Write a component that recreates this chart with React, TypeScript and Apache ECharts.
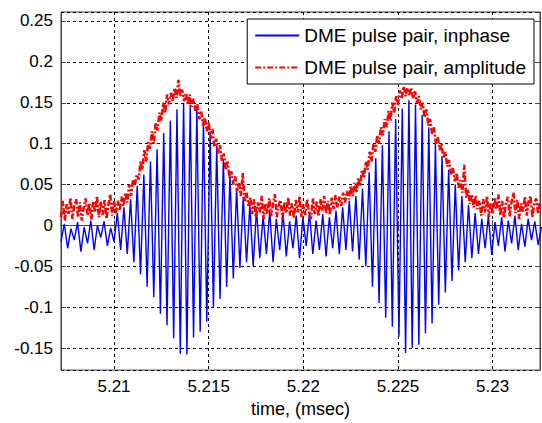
import { useEffect, useRef } from "react";
import * as echarts from "echarts";

// time grid (msec)
const T0 = 5.2072;
const BLUE_DT = 0.000175;
const RED_DT = 0.0001;
const X_MIN = 5.2072;
const X_MAX = 5.2325;
const Y_MIN = -0.177;
const Y_MAX = 0.261;

const seriesNames = ["DME pulse pair, inphase", "DME pulse pair, amplitude"];
const xAxisTitle = "time, (msec)";

// inphase signal: alternating troughs / peaks
const inphase = [
  -0.02, 0.002, -0.028, -0.004, -0.018, 0.004, -0.032, -0.002, -0.022, 0.006,
  -0.03, 0.0, -0.015, 0.005, -0.025, -0.003, -0.02,
  0.015, -0.03, 0.022, -0.035, 0.032, -0.045, 0.048, -0.06, 0.062, -0.075,
  0.078, -0.088, 0.093, -0.108, 0.113, -0.122, 0.128, -0.138, 0.142, -0.157,
  0.15, -0.158, 0.148, -0.137, 0.142, -0.13, 0.128, -0.118, 0.115, -0.1,
  0.097, -0.09, 0.08, -0.075, 0.062, -0.065, 0.045, -0.052, 0.035, -0.045,
  0.025, -0.05, 0.02,
  -0.04, 0.012, -0.035, 0.018, -0.045, 0.008, -0.03, 0.015, -0.038, 0.005,
  -0.028, 0.012, -0.04, 0.01, -0.025, 0.016, -0.035, 0.006, -0.03, 0.014,
  -0.038, 0.01, -0.028, 0.018,
  -0.035, 0.022, -0.03, 0.03, -0.032, 0.036, -0.042, 0.045, -0.05, 0.065,
  -0.075, 0.082, -0.095, 0.098, -0.113, 0.115, -0.124, 0.13, -0.136, 0.143,
  -0.156, 0.153, -0.15, 0.148, -0.146, 0.135, -0.132, 0.12, -0.12, 0.1,
  -0.097, 0.085, -0.082, 0.068, -0.068, 0.05, -0.055, 0.036, -0.045, 0.025,
  -0.04,
  0.015, -0.035, 0.008, -0.028, 0.012, -0.036, 0.004, -0.025, 0.01, -0.032,
  0.006, -0.022, 0.012, -0.03, 0.002, -0.026, 0.008, -0.018, 0.005, -0.024,
  -0.002,
];

// amplitude (noisy envelope)
const amplitude = [
  0.01, 0.03, 0.006, 0.026, 0.014, 0.034, 0.008, 0.024, 0.032, 0.01,
  0.028, 0.006, 0.022, 0.033, 0.012, 0.027, 0.007, 0.03, 0.016, 0.036,
  0.01, 0.029, 0.013, 0.031, 0.008, 0.025, 0.038, 0.012, 0.03, 0.015,
  0.03, 0.018, 0.035, 0.024, 0.04, 0.028, 0.05, 0.036, 0.056, 0.05,
  0.062, 0.056, 0.078, 0.068, 0.092, 0.078, 0.102, 0.094, 0.115, 0.1,
  0.126, 0.116, 0.138, 0.128, 0.15, 0.138, 0.16, 0.148, 0.162, 0.152,
  0.168, 0.156, 0.178,
  0.158, 0.166, 0.152, 0.162, 0.148, 0.16, 0.145, 0.155, 0.14, 0.148,
  0.13, 0.14, 0.122, 0.132, 0.115, 0.126, 0.106, 0.118, 0.096, 0.106,
  0.088, 0.098, 0.078, 0.088, 0.068, 0.078, 0.058, 0.066, 0.05, 0.06,
  0.042, 0.052, 0.036, 0.064, 0.03, 0.04, 0.024, 0.034,
  0.014, 0.032, 0.01, 0.028, 0.016, 0.036, 0.008, 0.027, 0.014, 0.033,
  0.011, 0.026, 0.038, 0.01, 0.025, 0.031, 0.007, 0.028, 0.015, 0.034,
  0.012, 0.027, 0.009, 0.031, 0.016, 0.036, 0.01, 0.026, 0.013, 0.032,
  0.017, 0.008, 0.033, 0.014, 0.029, 0.011, 0.032, 0.018, 0.036, 0.015,
  0.03, 0.013, 0.034, 0.02, 0.037, 0.022,
  0.035, 0.024, 0.04, 0.028, 0.042, 0.032, 0.048, 0.036, 0.052, 0.04,
  0.058, 0.048, 0.068, 0.058, 0.078, 0.068, 0.09, 0.078, 0.1, 0.09,
  0.11, 0.1, 0.12, 0.11, 0.13, 0.12, 0.14, 0.128, 0.15, 0.138,
  0.158, 0.148, 0.165, 0.155, 0.17, 0.158, 0.168, 0.16,
  0.168, 0.155, 0.164, 0.15, 0.158, 0.142, 0.15, 0.132, 0.142, 0.122,
  0.13, 0.112, 0.12, 0.1, 0.108, 0.092, 0.1, 0.082, 0.09, 0.072,
  0.08, 0.062, 0.07, 0.054, 0.064, 0.046, 0.055, 0.04, 0.074, 0.034,
  0.044, 0.026, 0.038, 0.022, 0.036, 0.02,
  0.03, 0.012, 0.032, 0.016, 0.036, 0.01, 0.028, 0.014, 0.034, 0.02,
  0.038, 0.012, 0.03, 0.009, 0.027, 0.035, 0.011, 0.029, 0.04, 0.015,
  0.031, 0.008, 0.027, 0.017, 0.035, 0.012, 0.03, 0.036, 0.01, 0.028,
  0.033, 0.014, 0.03,
];

const FONT = "Arial, 'Liberation Sans', Helvetica, sans-serif";

const fmt = (v: number, d: number) => {
  const r = parseFloat(v.toFixed(d));
  return r === 0 ? "0" : String(r);
};

export default function App() {
  const ref = useRef<HTMLDivElement>(null);
  useEffect(() => {
    if (!ref.current) return;
    const chart = echarts.init(ref.current, null, { renderer: "svg" });
    const blueData = inphase.map((v, i) => [T0 + i * BLUE_DT, v]);
    const redData = amplitude.map((v, i) => [T0 + i * RED_DT, v]);
    const frameColor = "#444";
    chart.setOption({
      animation: false,
      backgroundColor: "#fff",
      grid: {
        left: 61,
        right: 2,
        top: 12,
        bottom: 46,
        show: true,
        borderColor: frameColor,
        borderWidth: 1,
        backgroundColor: "#fff",
      },
      legend: {
        orient: "vertical",
        right: 8,
        top: 19,
        padding: [7, 8, 7, 7],
        itemGap: 13,
        itemWidth: 44,
        itemHeight: 14,
        backgroundColor: "#fff",
        borderColor: "#000",
        borderWidth: 1,
        borderRadius: 0,
        selectedMode: false,
        itemStyle: { opacity: 0 },
        textStyle: { fontFamily: FONT, fontSize: 19, color: "#000" },
        data: seriesNames,
      },
      xAxis: [
        {
          type: "value",
          min: X_MIN,
          max: X_MAX,
          splitNumber: 5,
          name: xAxisTitle,
          nameLocation: "middle",
          nameGap: 25,
          nameTextStyle: { fontFamily: FONT, fontSize: 18, color: "#000" },
          axisLine: { show: true, lineStyle: { color: frameColor } },
          axisTick: { show: true, inside: true, length: 5, lineStyle: { color: frameColor } },
          axisLabel: {
            fontFamily: FONT,
            fontSize: 17,
            color: "#000",
            margin: 8,
            showMinLabel: false,
            showMaxLabel: false,
            formatter: (v: number) => fmt(v, 4),
          },
          splitLine: { show: true, lineStyle: { color: "#000", type: [3, 3], width: 1 } },
        },
        {
          type: "value",
          position: "top",
          min: X_MIN,
          max: X_MAX,
          splitNumber: 5,
          axisLine: { show: true, lineStyle: { color: frameColor } },
          axisTick: { show: true, inside: true, length: 5, lineStyle: { color: frameColor } },
          axisLabel: { show: false },
          splitLine: { show: false },
        },
      ],
      yAxis: [
        {
          type: "value",
          min: Y_MIN,
          max: Y_MAX,
          splitNumber: 8,
          axisLine: { show: true, lineStyle: { color: frameColor } },
          axisTick: { show: true, inside: true, length: 5, lineStyle: { color: frameColor } },
          axisLabel: {
            fontFamily: FONT,
            fontSize: 17,
            color: "#000",
            margin: 8,
            showMinLabel: false,
            showMaxLabel: false,
            formatter: (v: number) => fmt(v, 3),
          },
          splitLine: { show: true, lineStyle: { color: "#000", type: [3, 3], width: 1 } },
        },
        {
          type: "value",
          position: "right",
          min: Y_MIN,
          max: Y_MAX,
          splitNumber: 8,
          axisLine: { show: true, lineStyle: { color: frameColor } },
          axisTick: { show: true, inside: true, length: 5, lineStyle: { color: frameColor } },
          axisLabel: { show: false },
          splitLine: { show: false },
        },
      ],
      series: [
        {
          name: seriesNames[0],
          type: "line",
          data: blueData,
          symbol: "none",
          showSymbol: false,
          lineStyle: { color: "#0000ff", width: 1.4 },
          itemStyle: { color: "#0000ff" },
          z: 2,
        },
        {
          name: seriesNames[1],
          type: "line",
          data: redData,
          symbol: "none",
          showSymbol: false,
          lineStyle: { color: "#ff0000", width: 2.5, type: [6, 2, 2, 2] },
          itemStyle: { color: "#ff0000" },
          z: 3,
        },
      ],
    });
    return () => chart.dispose();
  }, []);
  return (
    <div
      ref={ref}
      style={{ position: "fixed", left: 0, top: 0, width: 542, height: 423, background: "#fff" }}
    />
  );
}
